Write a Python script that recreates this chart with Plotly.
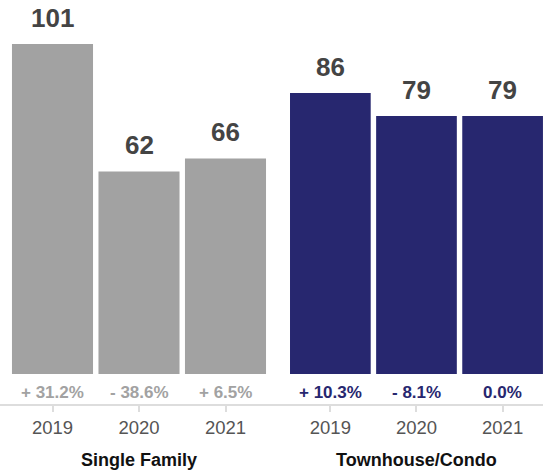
import plotly.graph_objects as go
from plotly.subplots import make_subplots

years = ["2019", "2020", "2021"]
single_family = [101, 62, 66]
townhouse = [86, 79, 79]
sf_pct = ["+ 31.2%", "- 38.6%", "+ 6.5%"]
th_pct = ["+ 10.3%", "- 8.1%", "0.0%"]
groups = ["Single Family", "Townhouse/Condo"]

GRAY = "#a2a2a2"
NAVY = "#27276f"
FONT = "Liberation Sans, Arial, Helvetica, sans-serif"

pos = list(range(len(years)))

fig = make_subplots(rows=1, cols=2, shared_yaxes=False, horizontal_spacing=0)

fig.add_trace(go.Bar(x=pos, y=single_family, marker_color=GRAY, marker_line_width=0,
                     width=0.937, hoverinfo="skip", showlegend=False), row=1, col=1)
fig.add_trace(go.Bar(x=pos, y=townhouse, marker_color=NAVY, marker_line_width=0,
                     width=0.937, hoverinfo="skip", showlegend=False), row=1, col=2)

YMIN, YMAX = -9.49, 114.5
W = 543.0
PLOT_H = 405.0

annotations = []
for xref, yref, vals, pcts, col in [("x", "y", single_family, sf_pct, GRAY),
                                    ("x2", "y2", townhouse, th_pct, NAVY)]:
    for i, v, p in zip(pos, vals, pcts):
        annotations.append(dict(x=i, y=v, xref=xref, yref=yref, text="<b>%d</b>" % v,
                                showarrow=False, xanchor="center", yanchor="bottom", yshift=9,
                                font=dict(family=FONT, size=26, color="#444444")))
        annotations.append(dict(x=i, y=-5.8, xref=xref, yref=yref, text="<b>" + p + "</b>",
                                showarrow=False, xanchor="center", yanchor="middle",
                                font=dict(family=FONT, size=17, color=col)))

gy = -55 / PLOT_H
annotations.append(dict(x=(12 + 266) / 2 / W, y=gy, xref="paper", yref="paper",
                        text="<b>" + groups[0] + "</b>", showarrow=False,
                        xanchor="center", yanchor="middle",
                        font=dict(family=FONT, size=18, color="#111111")))
annotations.append(dict(x=(290 + 543) / 2 / W, y=gy, xref="paper", yref="paper",
                        text="<b>" + groups[1] + "</b>", showarrow=False,
                        xanchor="center", yanchor="middle",
                        font=dict(family=FONT, size=18, color="#111111")))

axis_common = dict(tickmode="array", tickvals=pos, ticktext=years,
                   showgrid=False, zeroline=False, showline=False,
                   ticks="outside", ticklen=6, tickcolor="#dddddd", tickwidth=2,
                   tickfont=dict(family=FONT, size=18.5, color="#555555"))
fig.update_xaxes(**axis_common)
fig.update_xaxes(domain=[9.25 / W, 268.75 / W], range=[-0.5, 2.5], row=1, col=1)
fig.update_xaxes(domain=[287.3 / W, 1.0], range=[-0.5, 2.469], row=1, col=2)
fig.update_yaxes(range=[YMIN, YMAX], visible=False)
fig.update_layout(
    width=543, height=472,
    margin=dict(l=0, r=0, t=0, b=67),
    paper_bgcolor="white", plot_bgcolor="white",
    annotations=annotations,
    shapes=[dict(type="line", xref="paper", yref="paper", x0=0, x1=1, y0=0, y1=0,
                 line=dict(color="#dddddd", width=2))],
)

fig.write_html("out.html", config={"displayModeBar": False},
               post_script="document.body.style.margin='0';")
